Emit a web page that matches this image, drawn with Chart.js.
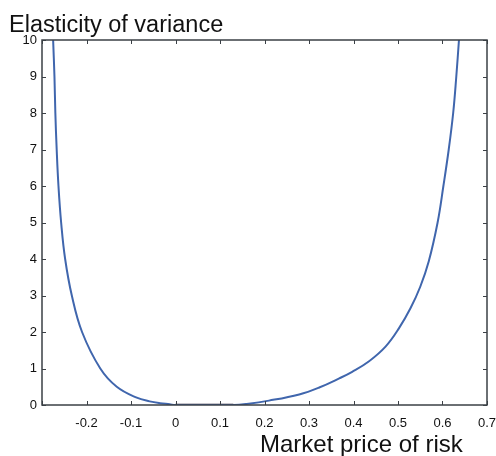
<!DOCTYPE html>
<html>
<head>
<meta charset="utf-8">
<script src="https://cdn.jsdelivr.net/npm/chart.js@4.4.1/dist/chart.umd.min.js"></script>
<style>
  html, body { margin: 0; padding: 0; background: #fff; }
  #wrap { width: 496px; height: 456px; }
</style>
</head>
<body>
<div id="wrap"><canvas id="chart" width="496" height="456"></canvas></div>
<script>
// curve: market price of risk vs elasticity of variance
const riskX = [-0.275, -0.272, -0.270, -0.267, -0.263, -0.257, -0.248, -0.233, -0.210, -0.169,
  -0.132, -0.087, -0.058, -0.035, -0.013, 0, 0.13, 0.16, 0.21, 0.278, 0.323, 0.368, 0.397,
  0.435, 0.472, 0.502, 0.528, 0.550, 0.569, 0.589, 0.602, 0.614, 0.624, 0.631, 0.637];
const elasticity = [10, 9, 8, 7, 6, 5, 4, 3, 2, 1,
  0.5, 0.2, 0.1, 0.05, 0.02, 0, 0, 0.03, 0.12, 0.29, 0.48, 0.73, 0.91,
  1.2, 1.6, 2.1, 2.65, 3.24, 3.93, 5, 6, 7, 8, 9, 10];
// flat dark segment along zero
const flatX = [0, 0.13];
const flatY = [0, 0];

const xTicks = [-0.3, -0.2, -0.1, 0, 0.1, 0.2, 0.3, 0.4, 0.5, 0.6, 0.7];
const yTicks = [0, 1, 2, 3, 4, 5, 6, 7, 8, 9, 10];

const FONT = "'Liberation Sans', Arial, sans-serif";
const AXIS = "#3b4046";

const frame = {
  id: "frame",
  afterDraw(chart) {
    const { ctx, chartArea: a, scales } = chart;
    ctx.save();
    ctx.strokeStyle = AXIS;
    ctx.lineWidth = 1;
    ctx.beginPath();
    xTicks.forEach(v => {
      const px = Math.round(scales.x.getPixelForValue(v)) + 0.5;
      ctx.moveTo(px, a.bottom); ctx.lineTo(px, a.bottom - 4);
      ctx.moveTo(px, a.top); ctx.lineTo(px, a.top + 4);
    });
    yTicks.forEach(v => {
      const py = Math.round(scales.y.getPixelForValue(v)) + 0.5;
      ctx.moveTo(a.left, py); ctx.lineTo(a.left + 4, py);
      ctx.moveTo(a.right, py); ctx.lineTo(a.right - 4, py);
    });
    ctx.stroke();
    ctx.lineWidth = 1.5;
    ctx.strokeRect(a.left, a.top, a.right - a.left, a.bottom - a.top);
    ctx.fillStyle = "#111";
    ctx.textBaseline = "alphabetic";
    ctx.textAlign = "left";
    ctx.font = "23.5px " + FONT;
    ctx.fillText("Elasticity of variance", 9, 32);
    ctx.font = "24px " + FONT;
    ctx.fillText("Market price of risk", 260, 452);
    ctx.restore();
  }
};

new Chart(document.getElementById("chart"), {
  type: "line",
  data: {
    datasets: [
      {
        data: riskX.map((x, i) => ({ x: x, y: elasticity[i] })),
        borderColor: "#4066ad",
        borderWidth: 2,
        pointRadius: 0,
        tension: 0.4,
        fill: false
      },
      {
        data: flatX.map((x, i) => ({ x: x, y: flatY[i] })),
        borderColor: "#1c1633",
        borderWidth: 2.5,
        pointRadius: 0,
        fill: false
      }
    ]
  },
  options: {
    responsive: false,
    animation: false,
    layout: { padding: { top: 40, right: 9, left: 0, bottom: 0 } },
    plugins: { legend: { display: false }, tooltip: { enabled: false } },
    scales: {
      x: {
        type: "linear",
        min: -0.3,
        max: 0.7,
        afterBuildTicks: s => { s.ticks = xTicks.map(v => ({ value: v })); },
        afterFit: s => { s.height = 51; s.paddingLeft = 0; s.paddingRight = 0; },
        grid: { display: false, drawTicks: false },
        border: { display: false },
        ticks: {
          color: "#111",
          font: { family: FONT, size: 13 },
          padding: 11,
          maxRotation: 0,
          callback: v => (Math.abs(v + 0.3) < 1e-9 ? "" : (Math.round(v * 10) / 10).toString())
        }
      },
      y: {
        min: 0,
        max: 10,
        afterBuildTicks: s => { s.ticks = yTicks.map(v => ({ value: v })); },
        afterFit: s => { s.width = 42; s.paddingTop = 0; s.paddingBottom = 0; },
        grid: { display: false, drawTicks: false },
        border: { display: false },
        ticks: {
          color: "#111",
          font: { family: FONT, size: 13 },
          padding: 5
        }
      }
    }
  },
  plugins: [frame]
});
</script>
</body>
</html>
